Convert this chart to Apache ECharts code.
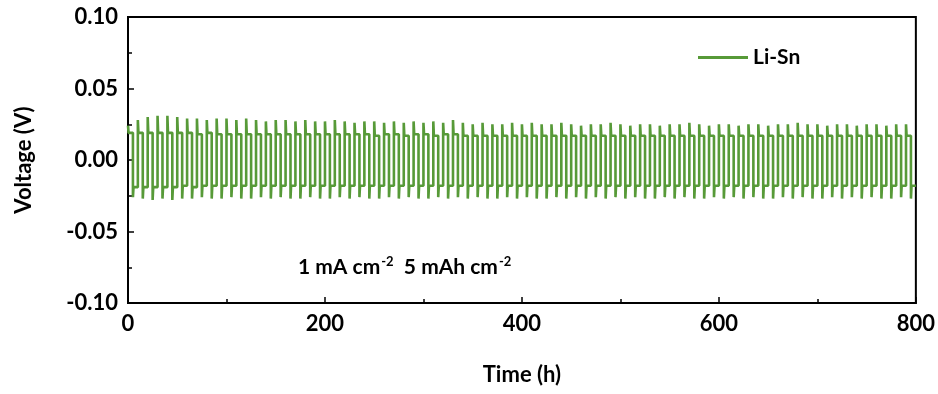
<!DOCTYPE html>
<html>
<head>
<meta charset="utf-8">
<script src="https://cdn.jsdelivr.net/npm/echarts@6/dist/echarts.min.js"></script>
<style>
  html, body { margin: 0; padding: 0; background: #fff; }
  #chart { width: 938px; height: 394px; }
</style>
</head>
<body>
<div id="chart"></div>
<script>
// 恒流循环：每个半周期 5 h，一个周期 10 h，共 80 个周期
const halfHours = 5;
const xTicks = [0, 200, 400, 600, 800];
const yTicks = [-0.10, -0.05, 0.00, 0.05, 0.10];

// 每个周期正半周的过冲峰值 (V)
const posPeak = [
  0.024, 0.028, 0.030, 0.031, 0.031, 0.030, 0.029, 0.029, 0.028, 0.029,
  0.029, 0.028, 0.029, 0.028, 0.027, 0.028, 0.028, 0.027, 0.028, 0.027,
  0.027, 0.028, 0.027, 0.026, 0.027, 0.027, 0.026, 0.027, 0.026, 0.027,
  0.026, 0.027, 0.026, 0.028, 0.026, 0.025, 0.026, 0.025, 0.025, 0.026,
  0.025, 0.026, 0.025, 0.025, 0.026, 0.025, 0.024, 0.025, 0.025, 0.026,
  0.025, 0.024, 0.025, 0.025, 0.024, 0.025, 0.025, 0.026, 0.025, 0.024,
  0.025, 0.025, 0.024, 0.025, 0.025, 0.024, 0.025, 0.025, 0.026, 0.025,
  0.025, 0.024, 0.025, 0.025, 0.024, 0.025, 0.025, 0.024, 0.025, 0.025
];
// 正半周平台电压
const posPlat = [
  0.019, 0.019, 0.019, 0.019, 0.019, 0.019, 0.019, 0.018, 0.019, 0.018,
  0.018, 0.018, 0.018, 0.018, 0.018, 0.018, 0.018, 0.018, 0.018, 0.018,
  0.018, 0.018, 0.018, 0.018, 0.018, 0.017, 0.018, 0.018, 0.017, 0.018,
  0.018, 0.017, 0.018, 0.018, 0.017, 0.017, 0.017, 0.017, 0.017, 0.017,
  0.017, 0.017, 0.017, 0.017, 0.017, 0.017, 0.017, 0.017, 0.017, 0.017,
  0.017, 0.017, 0.017, 0.017, 0.017, 0.017, 0.017, 0.017, 0.017, 0.017,
  0.017, 0.017, 0.017, 0.017, 0.017, 0.017, 0.017, 0.017, 0.017, 0.017,
  0.017, 0.017, 0.017, 0.017, 0.017, 0.017, 0.017, 0.017, 0.017, 0.017
];
// 负半周的过冲峰值 (V)
const negPeak = [
  -0.026, -0.027, -0.028, -0.027, -0.028, -0.027, -0.027, -0.026, -0.027, -0.027,
  -0.026, -0.027, -0.027, -0.026, -0.027, -0.026, -0.027, -0.027, -0.026, -0.027,
  -0.027, -0.026, -0.027, -0.026, -0.027, -0.027, -0.026, -0.027, -0.026, -0.027,
  -0.027, -0.026, -0.027, -0.026, -0.027, -0.026, -0.027, -0.027, -0.026, -0.027,
  -0.026, -0.027, -0.027, -0.026, -0.027, -0.026, -0.027, -0.026, -0.027, -0.026,
  -0.027, -0.026, -0.027, -0.027, -0.026, -0.027, -0.026, -0.027, -0.027, -0.026,
  -0.027, -0.026, -0.027, -0.026, -0.027, -0.027, -0.026, -0.027, -0.026, -0.027,
  -0.027, -0.026, -0.027, -0.026, -0.027, -0.026, -0.027, -0.027, -0.026, -0.027
];
// 负半周平台电压
const negPlat = [
  -0.019, -0.019, -0.019, -0.019, -0.019, -0.018, -0.019, -0.018, -0.018, -0.018,
  -0.018, -0.018, -0.018, -0.018, -0.018, -0.018, -0.018, -0.018, -0.018, -0.018,
  -0.018, -0.018, -0.018, -0.018, -0.018, -0.018, -0.018, -0.018, -0.018, -0.018,
  -0.018, -0.018, -0.018, -0.018, -0.018, -0.018, -0.018, -0.018, -0.018, -0.018,
  -0.018, -0.018, -0.018, -0.018, -0.018, -0.018, -0.018, -0.018, -0.018, -0.018,
  -0.018, -0.018, -0.018, -0.018, -0.018, -0.018, -0.018, -0.018, -0.018, -0.018,
  -0.018, -0.018, -0.018, -0.018, -0.018, -0.018, -0.018, -0.018, -0.018, -0.018,
  -0.018, -0.018, -0.018, -0.018, -0.018, -0.018, -0.018, -0.018, -0.018, -0.018
];

// 由每周期的峰值/平台构造折线
const points = [];
posPeak.forEach((p, i) => {
  const t = i * halfHours * 2;
  points.push([t, p]);
  points.push([t + 0.6, posPlat[i]]);
  points.push([t + halfHours, posPlat[i]]);
  points.push([t + halfHours, negPeak[i]]);
  points.push([t + halfHours + 0.6, negPlat[i]]);
  points.push([t + halfHours * 2, negPlat[i]]);
});

const font = "Lato, 'Open Sans', sans-serif";
const green = "#579a38";
const black = "#000";

const chart = echarts.init(document.getElementById("chart"));
chart.setOption({
  backgroundColor: "#fff",
  animation: false,
  grid: {
    left: 128, right: 22, top: 17, bottom: 91,
    show: true, borderColor: black, borderWidth: 2
  },
  legend: {
    data: ["Li-Sn"],
    left: 693, top: 42,
    icon: "rect", itemWidth: 50, itemHeight: 3, itemGap: 4,
    textStyle: { fontFamily: font, fontWeight: "bold", fontSize: 21, color: black }
  },
  xAxis: {
    type: "value",
    min: xTicks[0], max: xTicks[xTicks.length - 1], interval: 200,
    name: "Time (h)", nameLocation: "middle", nameGap: 61,
    nameTextStyle: { fontFamily: font, fontWeight: "bold", fontSize: 22, color: black },
    axisLine: { onZero: false, lineStyle: { color: black, width: 2 } },
    axisTick: { inside: true, length: 6, lineStyle: { color: black, width: 1.5 } },
    minorTick: { show: true, splitNumber: 2, length: 4, lineStyle: { color: black, width: 1.5 } },
    splitLine: { show: false },
    axisLabel: { fontFamily: font, fontWeight: "bold", fontSize: 22, color: black, margin: 10 }
  },
  yAxis: {
    type: "value",
    min: yTicks[0], max: yTicks[yTicks.length - 1], interval: 0.05,
    name: "Voltage (V)", nameLocation: "middle", nameGap: 93,
    nameTextStyle: { fontFamily: font, fontWeight: "bold", fontSize: 22, color: black },
    axisLine: { show: true, onZero: false, lineStyle: { color: black, width: 2 } },
    axisTick: { inside: true, length: 6, lineStyle: { color: black, width: 1.5 } },
    minorTick: { show: true, splitNumber: 2, length: 4, lineStyle: { color: black, width: 1.5 } },
    splitLine: { show: false },
    axisLabel: {
      fontFamily: font, fontWeight: "bold", fontSize: 22, color: black, margin: 10,
      formatter: (v) => v.toFixed(2)
    }
  },
  graphic: [{
    type: "text",
    left: 298, top: 255,
    style: {
      text: "{a|1 mA cm}{s|-2}{a|  5 mAh cm}{s|-2}",
      rich: {
        a: { fontFamily: font, fontWeight: "bold", fontSize: 21, color: black },
        s: { fontFamily: font, fontWeight: "bold", fontSize: 13, color: black, padding: [0, 0, 12, 1] }
      }
    }
  }],
  series: [{
    name: "Li-Sn",
    type: "line",
    data: points,
    showSymbol: false,
    symbol: "none",
    color: green,
    lineStyle: { color: green, width: 2.6 }
  }]
});
</script>
</body>
</html>
